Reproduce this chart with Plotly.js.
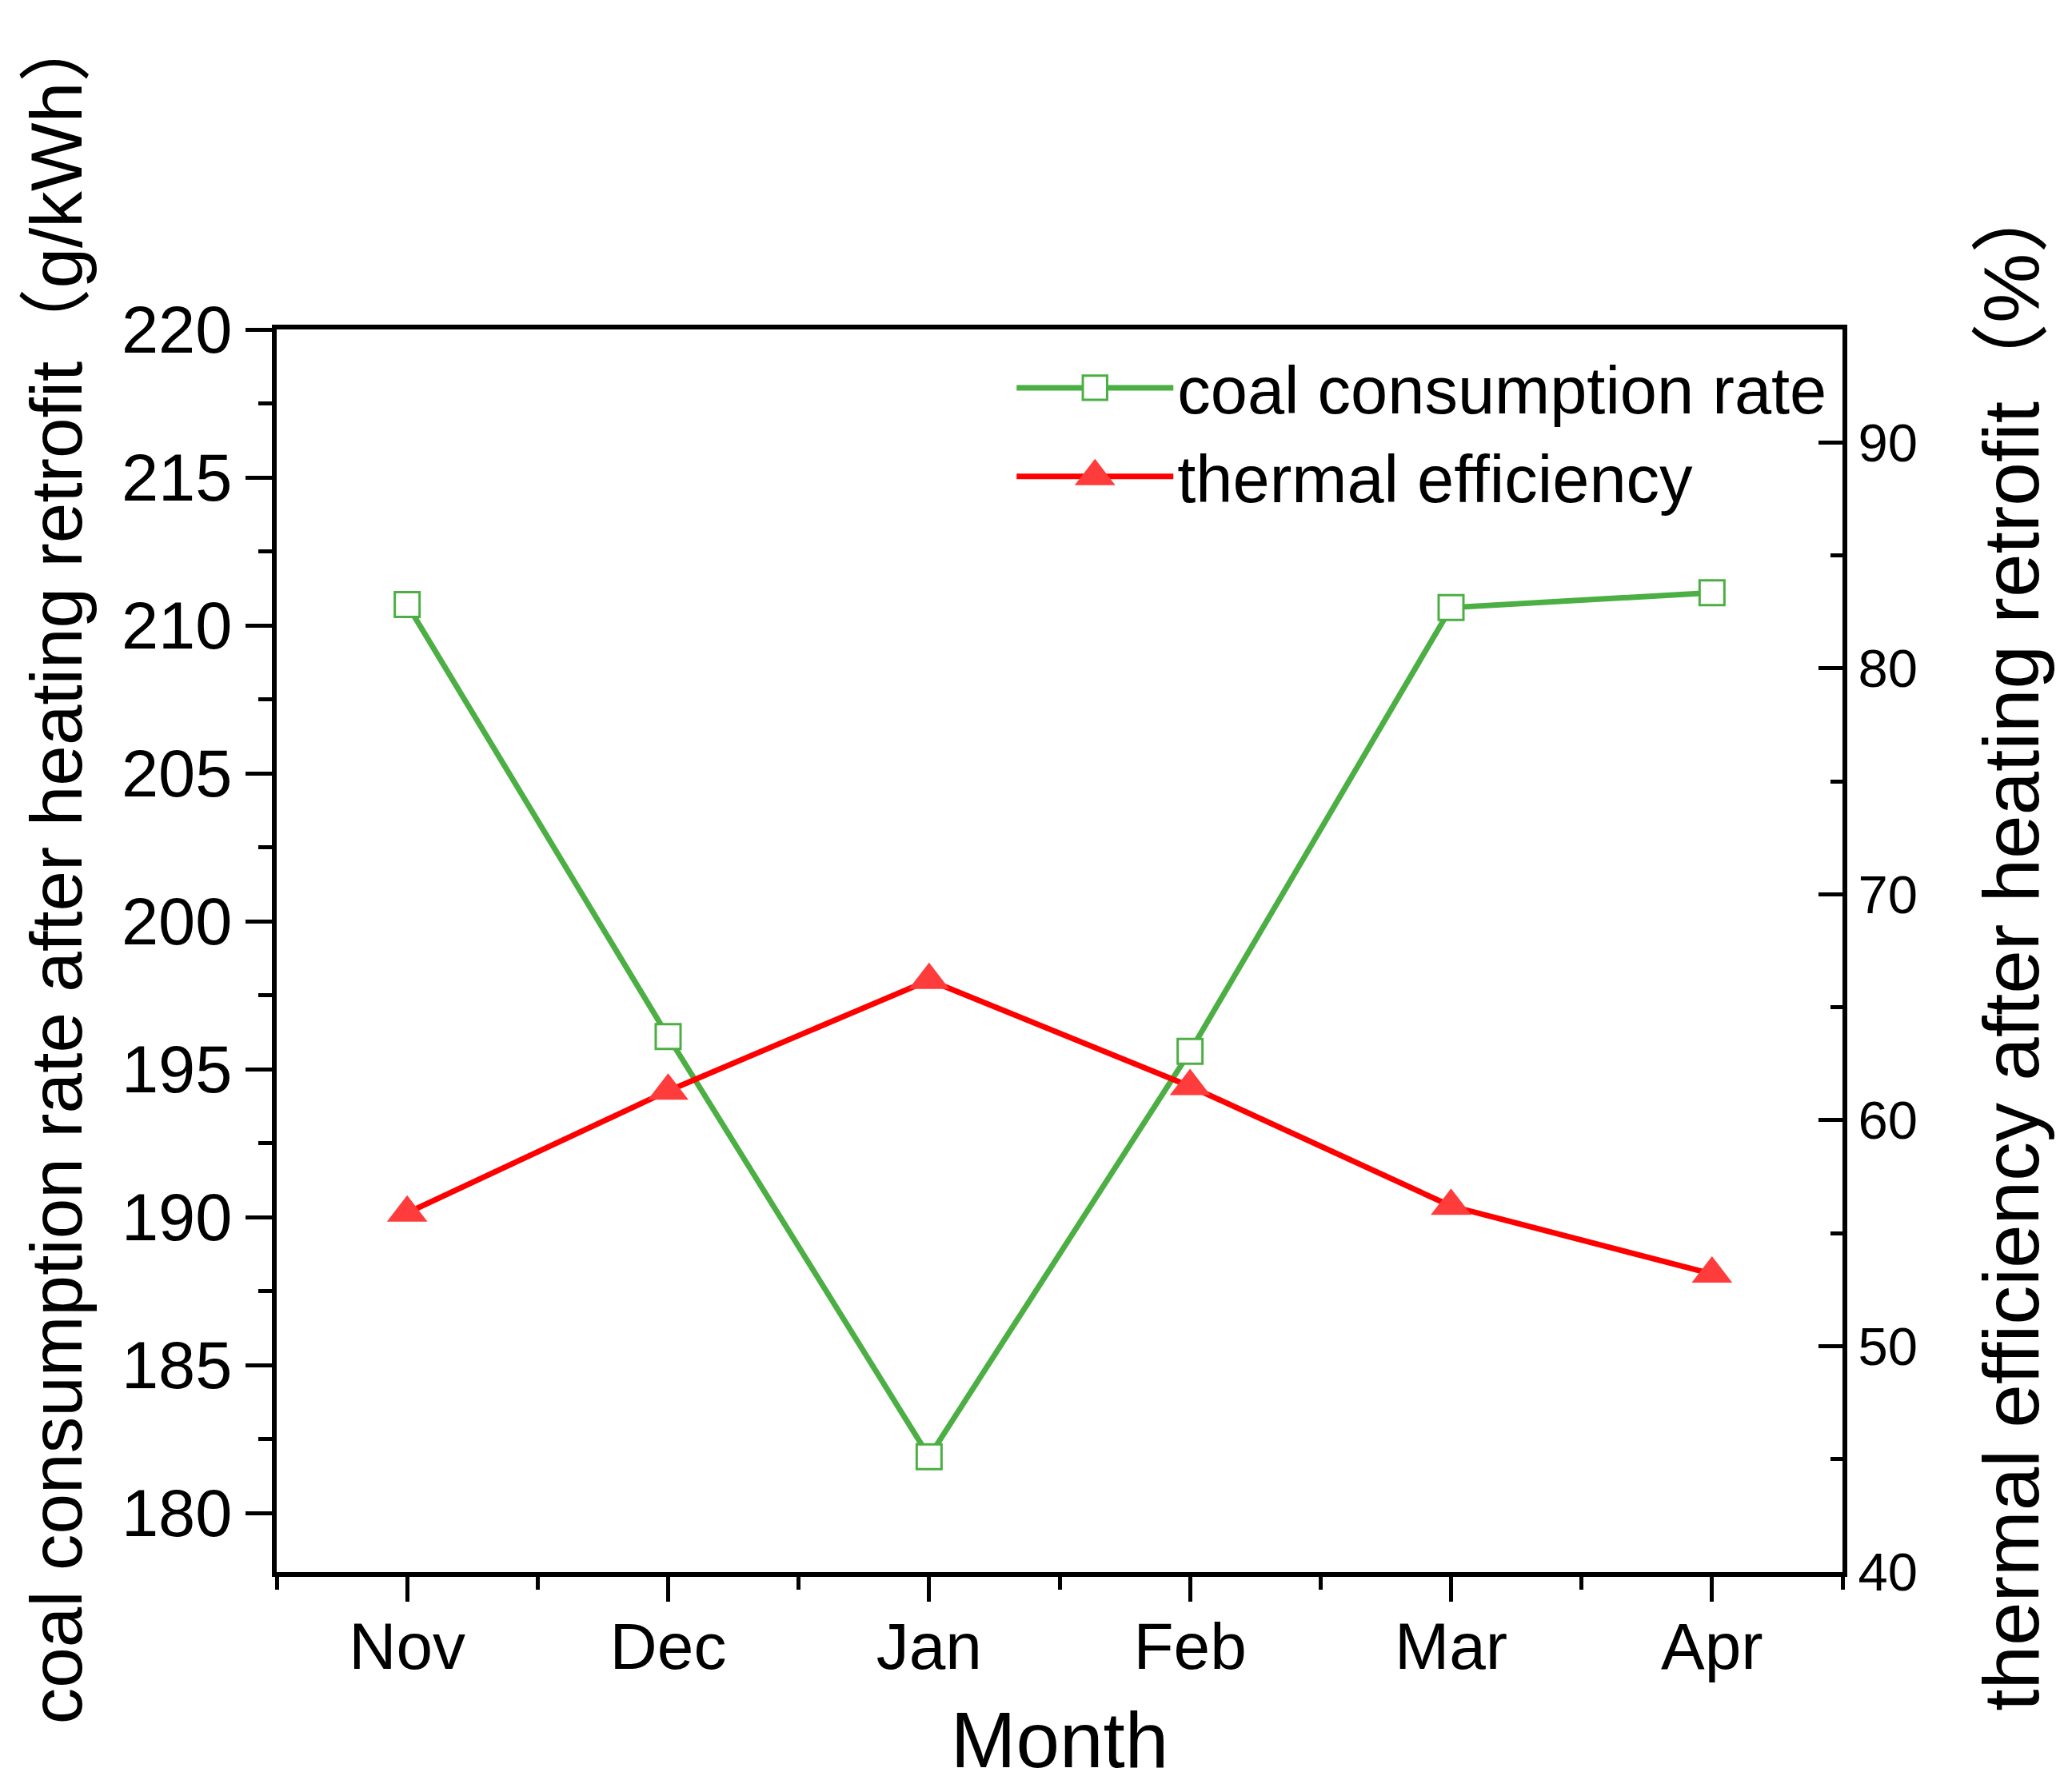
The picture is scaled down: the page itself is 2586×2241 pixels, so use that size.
<!DOCTYPE html>
<html>
<head>
<meta charset="utf-8">
<script src="https://cdn.plot.ly/plotly-3.0.1.min.js"></script>
<style>
  html, body { margin: 0; padding: 0; background: #fff; }
  #chart { width: 2586px; height: 2241px; }
</style>
</head>
<body>
<div id="chart"></div>
<script>
// data
const months = ['Nov', 'Dec', 'Jan', 'Feb', 'Mar', 'Apr'];
const coalRate = [210.7, 196.1, 181.9, 195.6, 210.6, 211.1];   // g/kWh, left axis
const thermalEff = [55.9, 61.3, 66.2, 61.5, 56.2, 53.2];      // %, right axis

const xIdx = months.map((m, i) => i);

const FONT = 'Liberation Sans, Arial, Noto Sans CJK SC, sans-serif';
const GREEN = 'rgb(76,175,68)';

var coal = {
  x: xIdx,
  y: coalRate,
  mode: 'lines+markers',
  name: 'coal consumption rate',
  line: { color: GREEN, width: 7 },
  marker: { symbol: 'square', size: 31, color: '#fff', line: { color: GREEN, width: 3 } }
};

var thermal = {
  x: xIdx,
  y: thermalEff,
  yaxis: 'y2',
  mode: 'lines+markers',
  name: 'thermal efficiency',
  line: { color: '#ff0000', width: 7 },
  marker: { symbol: 'triangle-up', size: 44, color: 'rgb(255,60,60)', line: { width: 0 } }
};

var layout = {
  width: 2586,
  height: 2241,
  margin: { l: 346, r: 282, t: 412, b: 275 },
  paper_bgcolor: '#fff',
  plot_bgcolor: '#fff',
  font: { family: FONT, color: '#000', size: 80 },
  showlegend: true,
  legend: {
    x: 0.470, xanchor: 'left',
    y: 0.992, yanchor: 'top',
    bgcolor: 'rgba(0,0,0,0)',
    font: { size: 83, family: FONT },
    itemwidth: 196,
    tracegroupgap: 0
  },

  xaxis: {
    range: [-0.5, 5.5],
    tickmode: 'array',
    tickvals: xIdx,
    ticktext: months,
    ticks: 'outside',
    ticklen: 31,
    tickwidth: 5,
    tickcolor: '#000',
    ticklabelstandoff: -14,
    minor: { tickmode: 'linear', tick0: -0.5, dtick: 1, ticks: 'outside', ticklen: 16, tickwidth: 5, tickcolor: '#000' },
    showline: true, linewidth: 6, linecolor: '#000',
    mirror: true,
    showgrid: false, zeroline: false,
    tickfont: { size: 82 },
    title: { text: 'Month', font: { size: 98 }, standoff: 40 }
  },

  yaxis: {
    range: [178, 220],
    tickmode: 'linear', tick0: 180, dtick: 5,
    ticks: 'outside', ticklen: 33, tickwidth: 5, tickcolor: '#000',
    minor: { tickmode: 'linear', tick0: 177.5, dtick: 5, ticks: 'outside', ticklen: 17, tickwidth: 5, tickcolor: '#000' },
    showline: true, linewidth: 6, linecolor: '#000',
    showgrid: false, zeroline: false,
    tickfont: { size: 83 }
  },

  yaxis2: {
    overlaying: 'y',
    side: 'right',
    range: [40, 95],
    tickmode: 'linear', tick0: 40, dtick: 10,
    ticks: 'inside', ticklen: 30, tickwidth: 5, tickcolor: '#000',
    minor: { tickmode: 'linear', tick0: 45, dtick: 10, ticks: 'inside', ticklen: 15, tickwidth: 5, tickcolor: '#000' },
    showline: true, linewidth: 6, linecolor: '#000',
    showgrid: false, zeroline: false,
    tickfont: { size: 67 }
  },

  annotations: [
    {
      text: 'coal consumption rate after heating retrofit（g/kWh）',
      xref: 'paper', yref: 'paper',
      x: -0.141, y: 0.568,
      xanchor: 'center', yanchor: 'middle',
      textangle: -90, showarrow: false,
      font: { size: 91 }
    },
    {
      text: 'thermal efficiency after heating retrofit（%）',
      xref: 'paper', yref: 'paper',
      x: 1.1078, y: 0.506,
      xanchor: 'center', yanchor: 'middle',
      textangle: -90, showarrow: false,
      font: { size: 98 }
    }
  ]
};

Plotly.newPlot('chart', [coal, thermal], layout, { displayModeBar: false, staticPlot: true }).then(function (gd) {
  // legend markers are capped at 16px by plotly; enlarge them to match the plot markers
  var scales = [1.9, 2.75];
  var pts = gd.querySelectorAll('.legend .traces');
  pts.forEach(function (tr, i) {
    tr.querySelectorAll('.legendpoints path.scatterpts').forEach(function (p) {
      var t = p.getAttribute('transform') || '';
      p.setAttribute('transform', t + ' scale(' + scales[i] + ')');
      if (i === 0) p.style.strokeWidth = (3 / scales[i]) + 'px';
    });
  });
});
</script>
</body>
</html>
